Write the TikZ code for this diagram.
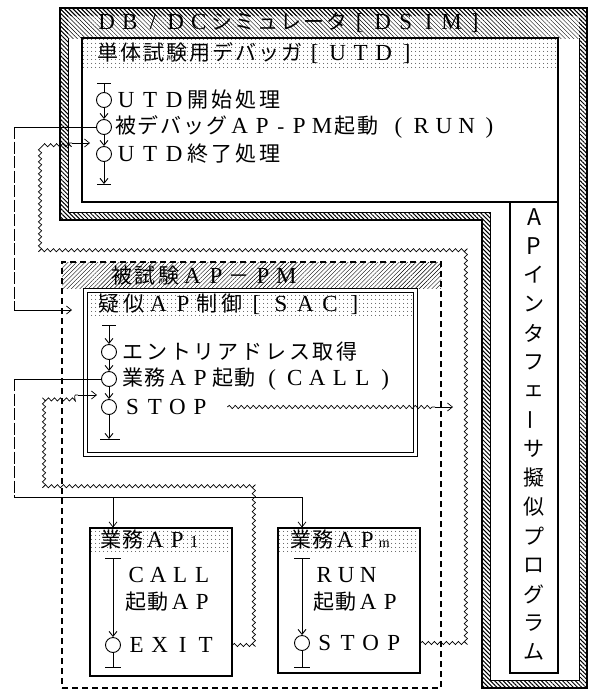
\documentclass[tikz,border=0pt]{standalone}
\usepackage{fontspec}
\usepackage{graphicx}
\setmainfont{Liberation Serif}
\newfontfamily\jp{Noto Sans CJK JP}
\usetikzlibrary{arrows.meta,patterns.meta,decorations.pathmorphing,fit}
\newlength\cw
\setlength\cw{22pt}
\makeatletter
\newcommand\Ja[1]{{\jp\@tfor\cc:=#1\do{\makebox[\cw][c]{\cc}}}}
\newcommand\La[1]{{\fontsize{23}{24}\selectfont\@tfor\cc:=#1\do{\makebox[\cw][c]{\cc}}}}
\makeatother
\begin{document}
\begin{tikzpicture}[x=1pt,y=-1pt,
  lab/.style={anchor=west,inner sep=0pt,font=\fontsize{21}{24}\selectfont},
  pitch/.style={execute at begin node={\setlength\cw{#1}}},
  box/.style={draw,line width=1.1pt,inner sep=0pt},
  fc/.style={circle,draw,line width=0.9pt,minimum size=15pt,inner sep=0pt},
  fl/.style={line width=0.9pt},
  conn/.style={line width=0.7pt},
  arr/.style={-{Straight Barb[length=5pt,width=8pt]}},
  wave/.style={line width=0.7pt,decorate,decoration={snake,amplitude=1.6pt,segment length=6pt}},
  dots/.style={pattern={Dots[radius=0.55pt,distance=4pt]}},
  vt/.style={inner sep=0pt,font=\fontsize{21}{24}\selectfont\jp}
]
\useasboundingbox (0,0) rectangle (590,691);

% ---------- DSIM frame ----------
\fill[pattern={Lines[angle=-45,distance=3pt,line width=0.45pt]}] (60,8) rectangle (587,38);
\fill[even odd rule,pattern={Lines[angle=-45,distance=3pt,line width=1pt]}]
  (60,8) -- (587,8) -- (587,688) -- (482,688) -- (482,220) -- (60,220) -- cycle
  (68,16) -- (579,16) -- (579,680) -- (490,680) -- (490,212) -- (68,212) -- cycle;
\draw[line width=1.4pt] (60,8) -- (587,8) -- (587,688) -- (482,688) -- (482,220) -- (60,220) -- cycle;
\draw[line width=0.6pt] (68,38) -- (68,212) -- (490,212) -- (490,680) -- (579,680) -- (579,38);
\node[lab,pitch=23pt] (dsimt) at (95,22) {\La{DB/DC}\Ja{シミュレータ}\La{[DSIM]}};

% ---------- UTD box ----------
\fill[white] (82,38) rectangle (558,202);
\fill[dots] (82,38) rectangle (558,68);
\node[box,fit={(82,38)(558,202)}] (utd) {};
\node[lab,pitch=23pt] (utdt) at (96,53) {\Ja{単体試験用デバッガ}\La{[UTD]}};

\node[fc] (u1) at (104,100) {};
\node[fc] (u2) at (104,127) {};
\node[fc] (u3) at (104,154) {};
\coordinate (ut) at (104,83);
\coordinate (ub) at (104,184);
\draw[fl] ([xshift=-7pt]ut) -- ([xshift=7pt]ut);
\draw[fl] (ut) -- (u1);
\draw[fl,arr] (u1) -- (u2);
\draw[fl,arr] (u2) -- (u3);
\draw[fl,arr] (u3) -- (ub);
\draw[fl] ([xshift=-7pt]ub) -- ([xshift=7pt]ub);
\node[lab,pitch=24pt] (ut1) at (114,100) {\La{UTD}\Ja{開始処理}};
\node[lab,pitch=22.8pt] (ut2) at (114,127) {\Ja{被デバッグ}\La{AP}\makebox[14pt]{-}\La{PM}\Ja{起動}\hspace{8pt}\La{(RUN)}};
\node[lab,pitch=24pt] (ut3) at (114,154) {\La{UTD}\Ja{終了処理}};

% ---------- AP interface box ----------
\node[box,fit={(510,202)(558,673)}] (apb) {};
\foreach \c [count=\i] in {{\fontsize{23}{24}\selectfont A},{\fontsize{23}{24}\selectfont P},イ,ン,タ,フ,ェ,{\rotatebox{90}{ー}},サ,擬,似,プ,ロ,グ,ラ,ム}
  \node[vt] (v\i) at (534,{217+29*(\i-1)}) {\c};

% ---------- test AP-PM box ----------
\fill[pattern={Lines[angle=45,distance=3pt,line width=0.4pt]}] (62,262) rectangle (441,288);
\node[fit={(62,262)(441,688)},draw,line width=2.4pt,dash pattern=on 6pt off 4pt,inner sep=0pt] (hsk) {};
\node[lab,pitch=23.5pt] (hskt) at (110,276) {\Ja{被試験}\La{AP}\Ja{－}\La{PM}};

% ---------- SAC box ----------
\fill[white] (83,288) rectangle (418,457);
\fill[dots] (86,291) rectangle (415,318);
\node[fit={(85.5,290.5)(415.5,454.5)},draw,double,double distance=3pt,line width=0.7pt,inner sep=0pt] (sac) {};
\node[lab,pitch=24.5pt] (sact) at (97,304) {\Ja{疑似}\La{AP}\Ja{制御}\La{[SAC]}};

\node[fc] (s1) at (109,352) {};
\node[fc] (s2) at (109,379) {};
\node[fc] (s3) at (109,407) {};
\coordinate (st) at (109,325);
\coordinate (sb) at (109,439);
\draw[fl] ([xshift=-7pt]st) -- ([xshift=7pt]st);
\draw[fl,arr] (st) -- (s1);
\draw[fl,arr] (s1) -- (s2);
\draw[fl,arr] (s2) -- (s3);
\draw[fl,arr] (s3) -- (sb);
\draw[fl] ([xshift=-9pt]sb) -- ([xshift=11pt]sb);
\node[lab,pitch=23.8pt] (st1) at (121,352) {\Ja{エントリアドレス取得}};
\node[lab,pitch=22.6pt] (st2) at (121,379) {\Ja{業務}\La{AP}\Ja{起動}\hspace{4pt}\La{(CALL)}};
\node[lab,pitch=22.5pt] (st3) at (121,407) {\La{STOP}};

% ---------- AP1 box ----------
\fill[dots] (90,528) rectangle (232,553);
\node[box,fit={(90,528)(232,676)}] (ap1) {};
\node[lab,pitch=22pt] (ap1t) at (100,540) {\Ja{業務}\La{AP}\makebox[12pt]{\fontsize{17}{17}\selectfont 1}};
\coordinate (a1t) at (113,558);
\node[fc] (a1c) at (113,645) {};
\coordinate (a1b) at (113,667);
\draw[fl] ([xshift=-8pt]a1t) -- ([xshift=8pt]a1t);
\draw[fl,arr] (a1t) -- (a1c);
\draw[fl] (a1c) -- (a1b);
\draw[fl] ([xshift=-8pt]a1b) -- ([xshift=8pt]a1b);
\node[lab,pitch=22pt] (a1x1) at (125,575) {\La{CALL}};
\node[lab,pitch=22pt] (a1x2) at (125,602) {\Ja{起動}\La{AP}};
\node[lab,pitch=23pt] (a1x3) at (125,645) {\La{EXIT}};

% ---------- APm box ----------
\fill[dots] (278,528) rectangle (420,553);
\node[box,fit={(278,528)(420,673)}] (apm) {};
\node[lab,pitch=22pt] (apmt) at (290,540) {\Ja{業務}\La{AP}\makebox[12pt]{\fontsize{14}{14}\selectfont m}};
\coordinate (amt) at (302,558);
\node[fc] (amc) at (302,643) {};
\coordinate (amb) at (302,667);
\draw[fl] ([xshift=-8pt]amt) -- ([xshift=8pt]amt);
\draw[fl,arr] (amt) -- (amc);
\draw[fl] (amc) -- (amb);
\draw[fl] ([xshift=-8pt]amb) -- ([xshift=8pt]amb);
\node[lab,pitch=22pt] (amx1) at (313,575) {\La{RUN}};
\node[lab,pitch=22pt] (amx2) at (313,602) {\Ja{起動}\La{AP}};
\node[lab,pitch=23pt] (amx3) at (313,643) {\La{STOP}};

% ---------- solid connectors ----------
\coordinate (c1a) at (14,127);
\coordinate (c1b) at (14,310);
\coordinate (c1e) at (72,310);
\draw[conn] (u2.west) -- (c1a);
\draw[conn,dash pattern=on 12pt off 2.5pt] (c1a) -- (c1b);
\draw[conn,arr] (c1b) -- (c1e);

\coordinate (c2a) at (14,379);
\coordinate (c2b) at (14,497);
\coordinate (c2c) at (302,497);
\coordinate (c2d) at (113,497);
\draw[conn] (s2.west) -- (c2a);
\draw[conn,dash pattern=on 12pt off 2.5pt] (c2a) -- (c2b);
\draw[conn] (c2b) -- (c2c);
\draw[conn,arr] (c2c) -- (c2c |- apm.north);
\draw[conn,arr] (c2d) -- (c2d |- ap1.north);

% ---------- wavy return connectors ----------
\coordinate (w1) at (467,643);
\coordinate (w2) at (467,248);
\coordinate (w3) at (37,248);
\coordinate (w4) at (37,143);
\coordinate (w5) at (72,143);
\coordinate (w6) at (90,143);
\draw[wave] (apm.east |- amc) -- (w1) -- (w2) -- (w3) -- (w4) -- (w5);
\draw[conn,arr] (w5) -- (w6);

\coordinate (x1) at (435,407);
\coordinate (x2) at (453,407);
\draw[wave] ([xshift=16pt]st3.east) -- (x1);
\draw[conn,arr] (x1) -- (x2);

\coordinate (y1) at (255,645);
\coordinate (y2) at (255,485);
\coordinate (y3) at (40,485);
\coordinate (y4) at (40,395);
\coordinate (y5) at (78,395);
\coordinate (y6) at (97,395);
\draw[wave] (ap1.east |- a1c) -- (y1) -- (y2) -- (y3) -- (y4) -- (y5);
\draw[conn,arr] (y5) -- (y6);
\end{tikzpicture}
\end{document}
